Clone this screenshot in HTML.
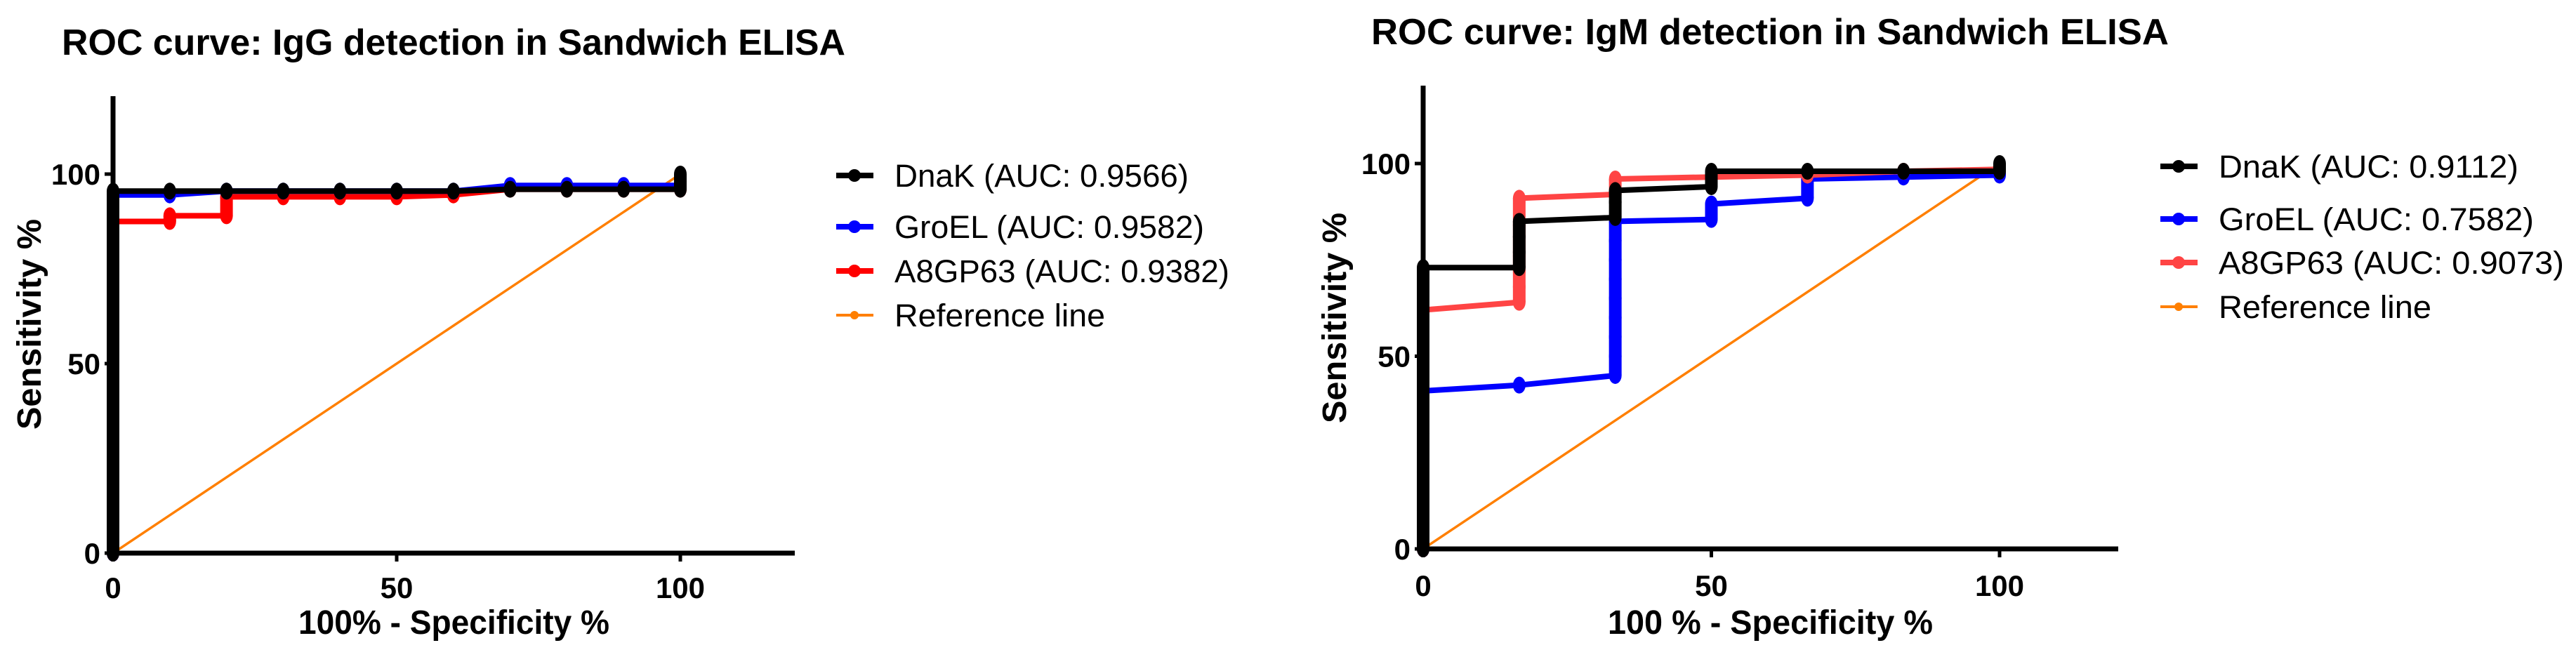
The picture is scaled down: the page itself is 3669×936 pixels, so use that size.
<!DOCTYPE html>
<html><head><meta charset="utf-8"><style>
html,body{margin:0;padding:0;background:#fff;}
svg{display:block;font-family:"Liberation Sans",Arial,sans-serif;}
</style></head><body>
<svg id="fig" width="3669" height="936" viewBox="0 0 3669 936" xmlns="http://www.w3.org/2000/svg">
<rect width="3669" height="936" fill="#fff"/>
<g id="leftChart"></g>
<g id="rightChart"></g>
</svg>
<script>
// ---- IgG (left) data ----
const iggDnakX = [0,0,0,0,0,0,0,0,0,0,0,0,0,0,0,0,0,0,0,0,0,10,20,30,40,50,60,70,80,90,100,100,100];
const iggDnakY = [0,5,10,15,20,25,30,35,40,45,50,55,60,65,70,75,80,85,90,93,95.5,95.5,95.5,95.5,95.5,95.5,95.5,96,96,96,96,98,100];
const iggGroelX = [0,0,0,0,0,0,0,0,0,0,0,0,0,0,0,0,0,0,0,0,10,20,30,40,50,60,70,80,90,100,100];
const iggGroelY = [0,5,10,15,20,25,30,35,40,45,50,55,60,65,70,75,80,85,90,94.5,94.5,95.5,95.5,95.5,95.5,95.5,97,97,97,97,98];
const iggA8X = [0,0,0,0,0,0,0,0,0,0,0,0,0,0,0,0,0,0,0,10,10,20,20,30,40,50,60,70,80,90,100,100];
const iggA8Y = [0,5,10,15,20,25,30,35,40,45,50,55,60,65,70,75,80,85,87.5,87.5,89,89,94,94,94,94,94.5,96,96,96,96,98];
// ---- IgM (right) data ----
const igmDnakX = [0,0,0,0,0,0,0,0,0,0,0,0,0,0,0,0,16.67,16.67,16.67,16.67,33.33,33.33,33.33,50,50,50,66.67,83.33,100,100];
const igmDnakY = [0,5,10,15,20,25,30,35,40,45,50,55,60,65,70,73,73,77,81,85,86,90,93,94,96,98,98,98,98,100];
const igmGroelX = [0,0,0,0,0,0,0,0,0,16.67,33.33,33.33,33.33,33.33,33.33,33.33,33.33,33.33,33.33,50,50,66.67,66.67,83.33,100,100];
const igmGroelY = [0,5,10,15,20,25,30,35,41,42.5,45,50,55,60,65,70,75,80,85,85.5,89.5,91,96,96.5,97,97.5];
const igmA8X = [0,0,0,0,0,0,0,0,0,0,0,0,0,0,16.67,16.67,16.67,16.67,16.67,16.67,33.33,33.33,50,66.67,83.33,100,100];
const igmA8Y = [0,5,10,15,20,25,30,35,40,45,50,55,60,62,64,68,72,76,84,91,92,96,96.5,97,98,98.5,99];
const xTicks = [0,50,100];
const yTicks = [0,50,100];
const refX = [0,100];
const refY = [0,100];

const NS = "http://www.w3.org/2000/svg";
function mk(parent, tag, attrs, text){
  const e = document.createElementNS(NS, tag);
  for (const k in attrs) e.setAttribute(k, attrs[k]);
  if (text !== undefined) e.textContent = text;
  parent.appendChild(e);
  return e;
}

function drawChart(g, cfg){
  const sx = v => cfg.x0 + v * cfg.kx;
  const sy = v => cfg.y0 - v * cfg.ky;
  const t = mk(g,'text',{x:cfg.titleX,y:cfg.titleY,'font-size':52,'font-weight':'bold',textLength:cfg.titleW,lengthAdjust:'spacingAndGlyphs'},cfg.title);
  
  
  const ref = mk(g,'line',{x1:sx(refX[0]),y1:sy(refY[0]),x2:sx(refX[1]),y2:sy(refY[1]),stroke:'#ff7f00','stroke-width':3.5});
  
  
  cfg.series.forEach(s=>{
    const sg = mk(g,'g',{});
    
    
    const pts = s.x.map((v,i)=>sx(v)+','+sy(s.y[i])).join(' ');
    mk(sg,'polyline',{points:pts,fill:'none',stroke:s.color,'stroke-width':s.w,'stroke-linejoin':'round'});
    // thick vertical runs where consecutive points share x
    for (let i=1;i<s.x.length;i++){
      if (s.x[i]===s.x[i-1]) mk(sg,'line',{x1:sx(s.x[i]),y1:sy(s.y[i-1]),x2:sx(s.x[i]),y2:sy(s.y[i]),stroke:s.color,'stroke-width':18});
    }
    s.x.forEach((v,i)=>{
      const c = mk(sg,'ellipse',{cx:sx(v),cy:sy(s.y[i]),rx:9,ry:12,fill:s.color});
      
      
    });
  });
  const ax = mk(g,'g',{});
  
  
  mk(ax,'line',{x1:cfg.x0,y1:cfg.y0+4,x2:cfg.x0,y2:cfg.axTop,stroke:'#000','stroke-width':7});
  mk(ax,'line',{x1:cfg.x0-4,y1:cfg.y0,x2:cfg.axRight,y2:cfg.y0,stroke:'#000','stroke-width':7});
  xTicks.forEach(v=>{
    mk(ax,'line',{x1:sx(v),y1:cfg.y0,x2:sx(v),y2:cfg.y0+12,stroke:'#000','stroke-width':5});
    const l = mk(ax,'text',{x:sx(v),y:cfg.xLabY,'font-size':42,'font-weight':'bold','text-anchor':'middle'},String(v));
    
    
  });
  yTicks.forEach(v=>{
    mk(ax,'line',{x1:cfg.x0-12,y1:sy(v),x2:cfg.x0,y2:sy(v),stroke:'#000','stroke-width':5});
    const l = mk(ax,'text',{x:cfg.x0-18,y:sy(v)+15,'font-size':42,'font-weight':'bold','text-anchor':'end'},String(v));
    
    
  });
  const xt = mk(g,'text',{x:cfg.xtX,y:903,'font-size':48,'font-weight':'bold',textLength:cfg.xtW,lengthAdjust:'spacingAndGlyphs'},cfg.xTitle);
  
  
  const yt = mk(g,'text',{x:0,y:0,'font-size':48,'font-weight':'bold','text-anchor':'middle',textLength:300,lengthAdjust:'spacingAndGlyphs',transform:'translate('+cfg.ytX+','+cfg.ytY+') rotate(-90)'},'Sensitivity  %');
  
  
  const lg = mk(g,'g',{});
  
  
  cfg.legend.forEach((e,i)=>{
    const y = cfg.legY[i];
    const eg = mk(lg,'g',{});
    
    
    mk(eg,'line',{x1:cfg.legX,y1:y,x2:cfg.legX+53,y2:y,stroke:e.color,'stroke-width':e.w});
    mk(eg,'circle',{cx:cfg.legX+26,cy:y,r:e.r,fill:e.color});
    mk(eg,'text',{x:cfg.legX+83,y:y+16,'font-size':45,textLength:e.tw,lengthAdjust:'spacingAndGlyphs'},e.label);
  });
}

drawChart(document.getElementById('leftChart'),{
  x0:161,kx:8.08,y0:788,ky:5.40,axTop:137,axRight:1132,
  title:'ROC curve: IgG detection in Sandwich ELISA',titleX:88,titleY:78,titleW:1116,
  xTitle:'100% - Specificity %',xtX:425,xtW:443,ytX:58,ytY:462,xLabY:852,
  series:[
    {name:'a8gp63-series',x:iggA8X,y:iggA8Y,color:'#ff0000',w:8},
    {name:'groel-series',x:iggGroelX,y:iggGroelY,color:'#0000ff',w:8},
    {name:'dnak-series',x:iggDnakX,y:iggDnakY,color:'#000000',w:8}
  ],
  legX:1191,legY:[250,323,386,449],
  legend:[
    {label:'DnaK (AUC: 0.9566)',color:'#000',w:8,r:9,tw:419},
    {label:'GroEL (AUC: 0.9582)',color:'#0000ff',w:8,r:9,tw:441},
    {label:'A8GP63 (AUC: 0.9382)',color:'#ff0000',w:8,r:9,tw:477},
    {label:'Reference line',color:'#ff7f00',w:4,r:6,tw:300}
  ]
});
drawChart(document.getElementById('rightChart'),{
  x0:2027,kx:8.21,y0:782,ky:5.49,axTop:122,axRight:3017,
  title:'ROC curve: IgM detection in Sandwich ELISA',titleX:1953,titleY:63,titleW:1136,
  xTitle:'100 % - Specificity %',xtX:2290,xtW:463,ytX:1917,ytY:453,xLabY:849,
  series:[
    {name:'groel-series',x:igmGroelX,y:igmGroelY,color:'#0000ff',w:8},
    {name:'a8gp63-series',x:igmA8X,y:igmA8Y,color:'#ff4444',w:8},
    {name:'dnak-series',x:igmDnakX,y:igmDnakY,color:'#000000',w:8}
  ],
  legX:3077,legY:[237,312,374,437],
  legend:[
    {label:'DnaK (AUC: 0.9112)',color:'#000',w:8,r:9,tw:427},
    {label:'GroEL (AUC: 0.7582)',color:'#0000ff',w:8,r:9,tw:449},
    {label:'A8GP63 (AUC: 0.9073)',color:'#ff4444',w:8,r:9,tw:492},
    {label:'Reference line',color:'#ff7f00',w:4,r:6,tw:303}
  ]
});
</script>
</body></html>
